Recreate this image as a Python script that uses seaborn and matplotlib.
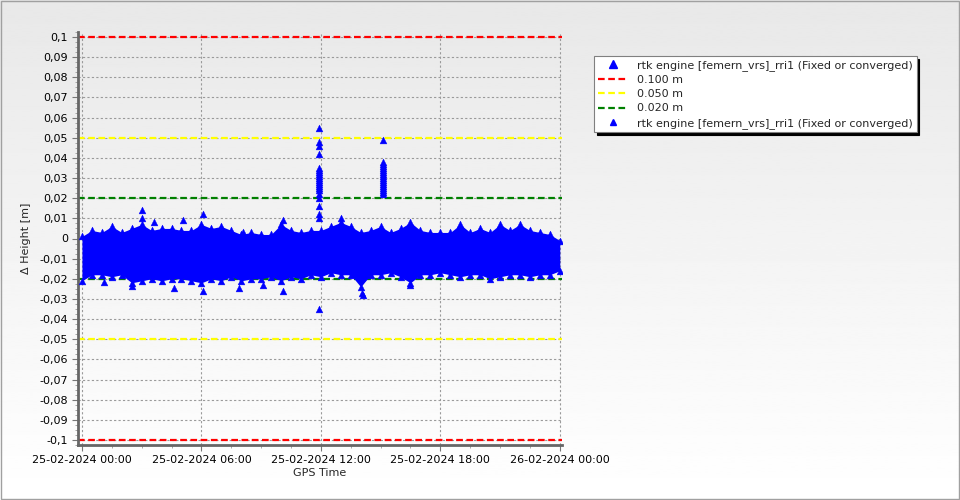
import numpy as np
import pandas as pd
import matplotlib
matplotlib.use("Agg")
import matplotlib.pyplot as plt
import seaborn as sns
from matplotlib.ticker import FixedLocator, FuncFormatter, MultipleLocator
from matplotlib.lines import Line2D
from matplotlib.patches import Rectangle

# --- datos (horas desde 25-02-2024 00:00, metros) ---
horas = np.arange(0, 24.5, 0.5)
banda_sup = [0.001, 0.004, 0.003, 0.006, 0.003, 0.005, 0.007, 0.004, 0.005, 0.005,
             0.004, 0.004, 0.007, 0.005, 0.006, 0.004, 0.002, 0.003, 0.002, 0.002,
             0.007, 0.004, 0.003, 0.004, 0.004, 0.006, 0.008, 0.006, 0.003, 0.004,
             0.006, 0.003, 0.005, 0.008, 0.004, 0.003, 0.003, 0.003, 0.007, 0.003,
             0.005, 0.003, 0.007, 0.004, 0.007, 0.004, 0.003, 0.002, -0.001]
banda_inf = [-0.021, -0.018, -0.018, -0.019, -0.018, -0.022, -0.021, -0.020, -0.021, -0.020,
             -0.020, -0.021, -0.022, -0.020, -0.021, -0.019, -0.021, -0.020, -0.020, -0.019,
             -0.021, -0.019, -0.020, -0.018, -0.019, -0.017, -0.018, -0.018, -0.024, -0.018,
             -0.018, -0.017, -0.019, -0.022, -0.018, -0.018, -0.017, -0.018, -0.019, -0.018,
             -0.018, -0.020, -0.019, -0.018, -0.018, -0.019, -0.018, -0.018, -0.016]

# puntos aislados
atip_h = [1.1, 2.5, 3.0, 3.0, 3.6, 4.6, 5.1, 6.1, 6.1, 7.9, 8.1, 9.1, 10.1, 10.1,
          13.0, 14.05, 14.1, 16.5]
atip_v = [-0.0215, -0.0235, 0.010, 0.014, 0.008, -0.0245, 0.009, 0.012, -0.026, -0.0245,
          0.003, -0.023, -0.026, 0.009, 0.010, -0.027, -0.028, -0.023]

# picos cerca de las 12:00 y 15:00
pico1_h = 11.9
pico1_v = [0.055, 0.048, 0.046, 0.042, 0.035, 0.034, 0.033, 0.032, 0.031, 0.030,
           0.029, 0.028, 0.027, 0.026, 0.025, 0.024, 0.022, 0.020, 0.016, 0.012,
           0.010, -0.035]
pico2_h = 15.1
pico2_v = [0.049, 0.038, 0.037, 0.036, 0.035, 0.034, 0.033, 0.032, 0.031, 0.030,
           0.029, 0.028, 0.027, 0.026, 0.025, 0.024, 0.023, 0.022]

umbrales = [0.100, 0.050, 0.020]
colores_umbral = ['#ff0000', '#ffff00', '#008000']
ticks_x = [0, 6, 12, 18, 24]
etiquetas_x = ['25-02-2024 00:00', '25-02-2024 06:00', '25-02-2024 12:00',
               '25-02-2024 18:00', '26-02-2024 00:00']
serie = 'rtk engine [femern_vrs]_rri1 (Fixed or converged)'

df_banda = pd.DataFrame({'h': horas, 'sup': banda_sup, 'inf': banda_inf})
df_pts = pd.DataFrame({
    'h': list(horas) * 2 + atip_h + [pico1_h] * len(pico1_v) + [pico2_h] * len(pico2_v),
    'v': banda_sup + banda_inf + atip_v + pico1_v + pico2_v})

sns.set_style('white')
plt.rcParams['font.family'] = ['DejaVu Sans']
plt.rcParams['font.size'] = 8

fig = plt.figure(figsize=(9.6, 5.0), dpi=100)

# fondo degradado
bg = fig.add_axes([0, 0, 1, 1], zorder=-10)
grad = np.linspace(0.91, 1.0, 256).reshape(-1, 1)
bg.imshow(grad, aspect='auto', cmap='gray', vmin=0, vmax=1, extent=[0, 1, 0, 1])
bg.set_axis_off()
fig.patches.append(Rectangle((0.0008, 0.002), 0.998, 0.996, transform=fig.transFigure,
                             fill=False, edgecolor='#a0a0a0', lw=1.0))

ax = fig.add_axes([0.0812, 0.11, 0.504, 0.826])
ax.set_facecolor('none')

# líneas de umbral
for u, c in zip(umbrales, colores_umbral):
    for s in (1, -1):
        ax.axhline(s * u, color=c, lw=1.6, ls=(0, (3, 1.6)), zorder=2)

ax.fill_between(df_banda['h'], df_banda['inf'], df_banda['sup'], color='#0000ff', lw=0, zorder=3)
sns.scatterplot(data=df_pts, x='h', y='v', marker='^', color='#0000ff', s=24,
                edgecolor='#0000ff', linewidth=0.3, ax=ax, zorder=4)

ax.set_xlim(-0.2, 24.1)
ax.set_ylim(-0.1025, 0.1025)
ax.xaxis.set_major_locator(FixedLocator(ticks_x))
ax.set_xticklabels(etiquetas_x)
ax.xaxis.set_minor_locator(MultipleLocator(1.5))
ax.yaxis.set_major_locator(MultipleLocator(0.01))
ax.yaxis.set_minor_locator(MultipleLocator(0.0025))

def fmt_y(v, pos):
    v = round(v, 2)
    if abs(v) < 1e-9:
        return '0'
    return ('%.2f' % v).rstrip('0').replace('.', ',')

ax.yaxis.set_major_formatter(FuncFormatter(fmt_y))
ax.grid(True, which='major', color='#9a9a9a', ls=(0, (2, 2)), lw=0.8, zorder=1)
ax.tick_params(axis='both', which='major', length=4, color='#777777', labelsize=8,
               direction='out', pad=3, labelcolor='black')
ax.tick_params(axis='both', which='minor', length=2, color='#999999', direction='out')
ax.tick_params(axis='x', bottom=True, which='both')
ax.tick_params(axis='y', left=True, which='both')

for side in ('top', 'right'):
    ax.spines[side].set_visible(False)
for side in ('left', 'bottom'):
    ax.spines[side].set_color('#666666')
    ax.spines[side].set_linewidth(2)

ax.set_xlabel('GPS Time', fontsize=8, labelpad=2)
ax.set_ylabel('Δ Height [m]', fontsize=8, labelpad=6)

handles = [Line2D([], [], ls='none', marker='^', color='#0000ff', markersize=6)]
labels = [serie]
for u, c in zip(umbrales, colores_umbral):
    handles.append(Line2D([], [], color=c, lw=1.6, ls=(0, (3, 1.6))))
    labels.append('%.3f m' % u)
handles.append(Line2D([], [], ls='none', marker='^', color='#0000ff', markersize=4))
labels.append(serie)

leg = fig.legend(handles, labels, loc='upper left', bbox_to_anchor=(0.619, 0.888),
                 fontsize=8, frameon=True, fancybox=False,
                 shadow={'color': 'black', 'alpha': 1.0},
                 handlelength=2.6, handletextpad=0.9, labelspacing=0.38,
                 borderpad=0.35, borderaxespad=0)
leg.get_frame().set_edgecolor('#808080')
leg.get_frame().set_linewidth(0.8)

fig.savefig('out.png', dpi=100)
